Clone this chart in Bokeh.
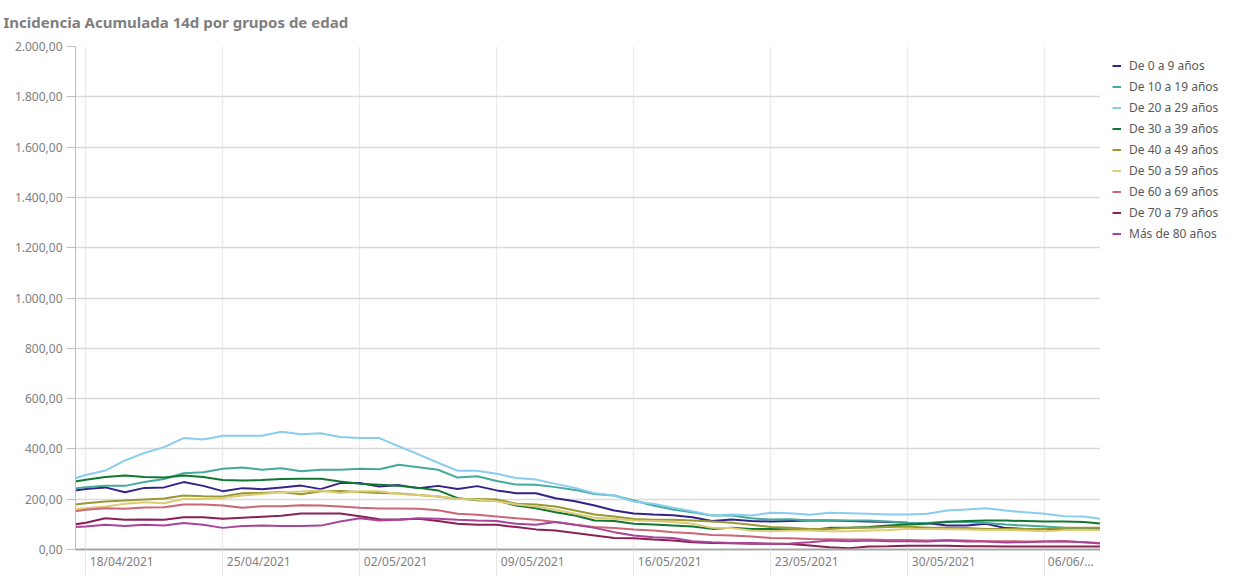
import pandas as pd
from bokeh.plotting import figure
from bokeh.layouts import row, column
from bokeh.models import Range1d, FixedTicker, Legend, LegendItem, ColumnDataSource, Label
from bokeh.embed import file_html
from bokeh.resources import INLINE

# ---------------- data ----------------
dates = pd.date_range("2021-04-17", "2021-06-09", freq="D")

title_text = "Incidencia Acumulada 14d por grupos de edad"
series_names = ["De 0 a 9 años", "De 10 a 19 años", "De 20 a 29 años", "De 30 a 39 años",
                "De 40 a 49 años", "De 50 a 59 años", "De 60 a 69 años", "De 70 a 79 años",
                "Más de 80 años"]

s_0_9 = [230, 241, 247, 228, 245, 247, 268, 253, 232, 244, 240, 247, 254, 240, 264, 264, 250, 256, 244, 253, 241, 252,
         235, 224, 224, 204, 192, 175, 155, 143,
         139, 136, 128, 113, 119, 113, 111,
         113, 115, 115, 113, 111, 109, 106, 105,
         95, 95, 102, 85, 82, 82, 80, 80, 82]
s_10_19 = [238, 248, 253, 253, 268, 280, 303, 307, 321, 326, 317, 323, 311, 317, 317, 321, 319, 337, 327, 317, 286, 291,
           272, 258, 257, 248, 237, 221, 215, 195,
           175, 159, 148, 135, 135, 124, 119,
           120, 115, 115, 115, 115, 111, 106, 105,
           111, 109, 105, 99, 95, 91, 86, 82, 78]
s_20_29 = [272, 296, 314, 354, 384, 407, 443, 437, 452, 452, 452, 468, 458, 462, 447, 443, 443, 410, 378, 345, 313, 313,
           301, 284, 278, 261, 245, 224, 215, 191,
           182, 166, 152, 135, 139, 135, 146,
           144, 138, 146, 144, 142, 139, 139, 142,
           155, 159, 164, 155, 148, 142, 132, 131, 120]
s_30_39 = [265, 277, 288, 294, 288, 286, 294, 288, 276, 274, 276, 280, 281, 281, 270, 261, 257, 253, 245, 235, 204, 196,
           195, 175, 164, 148, 135, 115, 113, 102,
           99, 95, 91, 82, 86, 82, 82,
           80, 78, 86, 86, 89, 95, 99, 102,
           109, 113, 115, 115, 113, 111, 111, 109, 102]
s_40_49 = [174, 184, 191, 195, 199, 203, 215, 212, 211, 224, 225, 229, 220, 232, 233, 229, 225, 223, 217, 211, 201, 201,
           199, 182, 179, 171, 155, 139, 131, 121,
           118, 118, 115, 111, 106, 98, 89,
           86, 82, 82, 86, 86, 89, 91, 86,
           86, 85, 82, 82, 82, 82, 86, 86, 86]
s_50_59 = [158, 164, 171, 182, 188, 184, 201, 201, 205, 215, 221, 228, 231, 235, 225, 232, 232, 221, 217, 212, 201, 198,
           192, 179, 171, 158, 142, 126, 122, 115,
           113, 109, 102, 86, 85, 76, 73,
           76, 76, 73, 73, 76, 78, 82, 82,
           81, 80, 78, 78, 76, 73, 78, 78, 78]
s_60_69 = [147, 158, 164, 162, 167, 168, 179, 179, 175, 166, 172, 172, 176, 175, 171, 166, 163, 163, 162, 156, 142, 138,
           131, 124, 118, 109, 98, 89, 85, 80,
           76, 69, 65, 58, 56, 52, 46,
           45, 42, 41, 40, 40, 38, 38, 36,
           38, 36, 33, 33, 32, 32, 33, 29, 25]
s_70_79 = [95, 106, 124, 118, 119, 118, 128, 128, 122, 126, 130, 134, 143, 143, 143, 132, 120, 119, 122, 113, 102, 98,
           98, 89, 80, 76, 66, 56, 46, 45,
           40, 36, 29, 26, 25, 23, 23,
           22, 16, 9, 5, 12, 13, 15, 15,
           15, 13, 13, 12, 12, 12, 12, 12, 12]
s_80 = [88, 91, 98, 93, 98, 95, 105, 98, 86, 93, 95, 93, 93, 95, 111, 124, 115, 118, 124, 122, 118, 115,
        113, 102, 98, 109, 98, 86, 69, 56,
        49, 46, 33, 29, 26, 26, 23,
        24, 29, 36, 33, 36, 33, 33, 32,
        36, 32, 32, 28, 29, 32, 33, 29, 23]

grid_dates = ["2021-04-18", "2021-04-25", "2021-05-02", "2021-05-09",
              "2021-05-16", "2021-05-23", "2021-05-30", "2021-06-06"]
x_tick_labels = ["18/04/2021", "25/04/2021", "02/05/2021", "09/05/2021",
                 "16/05/2021", "23/05/2021", "30/05/2021", "06/06/…"]
y_ticks = [0, 200, 400, 600, 800, 1000, 1200, 1400, 1600, 1800, 2000]
y_tick_labels = ["0,00", "200,00", "400,00", "600,00", "800,00", "1.000,00",
                 "1.200,00", "1.400,00", "1.600,00", "1.800,00", "2.000,00"]

colors = ["#332288", "#44AA99", "#88CCEE", "#117733", "#999933",
          "#DDCC77", "#CC6677", "#882255", "#AA4499"]

# ---------------- helpers ----------------
DAY = 86400000


def ms(ts):
    return int(pd.Timestamp(ts).value // 10**6)


all_series = [s_0_9, s_10_19, s_20_29, s_30_39, s_40_49, s_50_59, s_60_69, s_70_79, s_80]
src = ColumnDataSource(dict(x=[ms(d) for d in dates],
                            **{f"s{i}": s for i, s in enumerate(all_series)}))

PX_PER_DAY = 19.57
grid_ms = [ms(g) for g in grid_dates]
label_shift_px = [36, 36, 36, 36, 36, 36, 36, 26]
label_pos = [g + int(s / PX_PER_DAY * DAY) for g, s in zip(grid_ms, label_shift_px)]

FONT = "Noto Sans"
TOTAL_W, TOTAL_H = 1244, 582
LEG_W = 144
TITLE_H = 38
BODY_H = TOTAL_H - TITLE_H


def bare_figure(w, h, xr, yr):
    f = figure(width=w, height=h, output_backend="svg", toolbar_location=None,
               x_range=Range1d(*xr), y_range=Range1d(*yr),
               x_axis_location=None, y_axis_location=None,
               min_border_left=0, min_border_right=0, min_border_top=0, min_border_bottom=0,
               background_fill_color="white", border_fill_color="white", outline_line_color=None)
    f.grid.visible = False
    return f


# ---------------- title strip ----------------
tf = bare_figure(TOTAL_W, TITLE_H, (0, TOTAL_W), (0, TITLE_H))
tf.add_layout(Label(x=3, y=TITLE_H - 21, text=title_text, text_font=FONT, text_font_size="15px",
                    text_font_style="bold", text_color="#7f7f7f", text_baseline="middle",
                    text_align="left"))

# ---------------- main chart ----------------
p = figure(width=TOTAL_W - LEG_W, height=BODY_H, output_backend="svg", toolbar_location=None,
           x_range=Range1d(ms("2021-04-17") + int(0.474 * DAY), ms("2021-06-08") + int(0.85 * DAY)),
           y_range=Range1d(0, 2000),
           min_border_left=75, min_border_right=0, min_border_top=8, min_border_bottom=33,
           background_fill_color="white", border_fill_color="white", outline_line_color=None)

# x axis
xa = p.xaxis[0]
xa.ticker = FixedTicker(ticks=label_pos, minor_ticks=grid_ms)
xa.major_label_overrides = {pos: lab for pos, lab in zip(label_pos, x_tick_labels)}
xa.major_tick_line_color = None
xa.major_tick_out = 0
xa.major_tick_in = 0
xa.minor_tick_out = 26
xa.minor_tick_in = 0
xa.minor_tick_line_color = "#e6e6e6"
xa.minor_tick_line_width = 1
xa.axis_line_color = "#a6a6a6"
xa.axis_line_width = 2
xa.major_label_standoff = -23
xa.major_label_text_font = FONT
xa.major_label_text_font_size = "12px"
xa.major_label_text_color = "#808080"

# y axis
ya = p.yaxis[0]
ya.ticker = FixedTicker(ticks=y_ticks)
ya.major_label_overrides = {t: lab for t, lab in zip(y_ticks, y_tick_labels)}
ya.major_tick_out = 9
ya.major_tick_in = 0
ya.major_tick_line_color = "#bfbfbf"
ya.minor_tick_line_color = None
ya.axis_line_color = "#bfbfbf"
ya.major_label_standoff = 4
ya.major_label_text_font = FONT
ya.major_label_text_font_size = "12px"
ya.major_label_text_color = "#808080"

# grids
p.ygrid.grid_line_color = "#d9d9d9"
p.ygrid.grid_line_width = 1.3
p.xgrid.ticker = FixedTicker(ticks=grid_ms)
p.xgrid.grid_line_color = "#ebebeb"
p.xgrid.grid_line_width = 1.3

# lines
for i, col in enumerate(colors):
    p.line(x="x", y=f"s{i}", source=src, line_color=col, line_width=2)

# ---------------- legend panel (right) ----------------
lg = bare_figure(LEG_W, BODY_H, (0, 1), (0, 1))
items = []
for i, (name, col) in enumerate(zip(series_names, colors)):
    # same series, drawn far outside this panel's view: only the legend swatch shows
    r = lg.line(x="x", y=f"s{i}", source=src, line_color=col, line_width=2)
    items.append(LegendItem(label=name, renderers=[r]))

ITEM_H, ITEM_GAP = 17, 4
legend_h = len(items) * ITEM_H + (len(items) - 1) * ITEM_GAP
legend_top = 65 - TITLE_H - ITEM_H / 2
LEGEND_Y_FIX = 33  # empirical correction of the legend's own extent
legend = Legend(items=items, location=(12, BODY_H - legend_top - legend_h - LEGEND_Y_FIX),
                orientation="vertical",
                margin=0, padding=0, spacing=ITEM_GAP,
                glyph_width=9, glyph_height=ITEM_H, label_height=ITEM_H, label_standoff=8,
                label_text_font=FONT, label_text_font_size="12px", label_text_color="#595959",
                border_line_color=None, background_fill_alpha=0)
lg.add_layout(legend)

layout = column(tf, row(p, lg, spacing=0), spacing=0)
open("out.html", "w").write(file_html(layout, INLINE))
